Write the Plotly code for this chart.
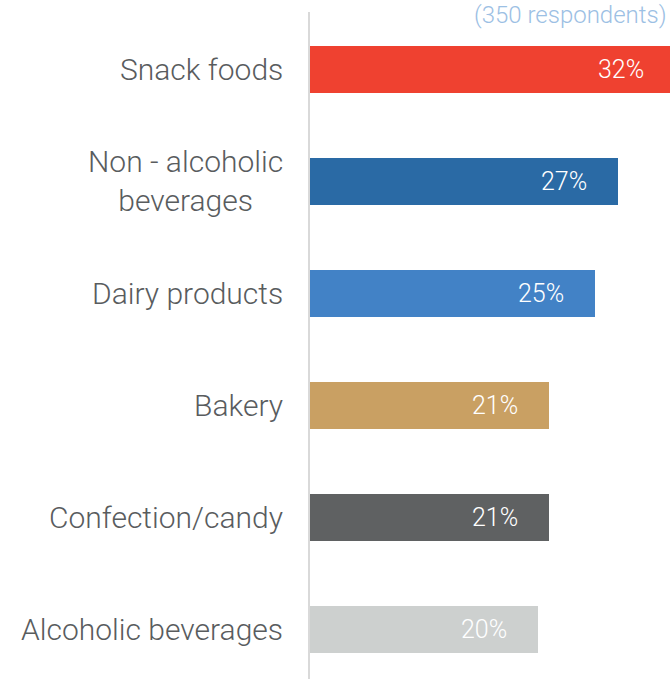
import plotly.graph_objects as go

# Categories, shares and bar colours
categories = [
    "Snack foods",
    "Non - alcoholic<br>beverages",
    "Dairy products",
    "Bakery",
    "Confection/candy",
    "Alcoholic beverages",
]
shares = [32, 27, 25, 21, 21, 20]
value_labels = ["32%", "27%", "25%", "21%", "21%", "20%"]
colors = ["#ef4130", "#2a6aa5", "#4282c6", "#c9a063", "#5f6162", "#cdd0cf"]
subtitle = "(350 respondents)"

X_MAX = 31.6
FONT = "Roboto, 'Liberation Sans', Arial, sans-serif"

fig = go.Figure(
    go.Bar(
        x=shares,
        y=categories,
        orientation="h",
        marker=dict(color=colors, line=dict(width=0)),
        width=0.42,
        hoverinfo="skip",
    )
)

annotations = []
# Value labels, right-aligned inside each bar
for cat, v, lab in zip(categories, shares, value_labels):
    annotations.append(dict(
        x=v / X_MAX, xref="paper", y=cat, yref="y",
        text=lab, showarrow=False, xanchor="right", yanchor="middle",
        xshift=-29,
        font=dict(family=FONT, size=25, color="white", weight=300),
    ))
# Category labels, centred lines, right edge left of the axis
for cat in categories:
    annotations.append(dict(
        x=0, xref="paper", y=cat, yref="y",
        text=cat, showarrow=False, xanchor="right", yanchor="middle",
        align="center", xshift=-25,
        font=dict(family=FONT, size=30, color="#595c5e", weight=300),
    ))
annotations.append(dict(
    x=1, xref="paper", y=1, yref="paper",
    text=subtitle, showarrow=False, xanchor="right", yanchor="middle",
    xshift=-1, yshift=-3,
    font=dict(family=FONT, size=24, color="#9cc0e4", weight=300),
))

fig.update_layout(
    width=670,
    height=679,
    margin=dict(l=310, r=0, t=12, b=0),
    paper_bgcolor="white",
    plot_bgcolor="white",
    showlegend=False,
    bargap=0,
    annotations=annotations,
    xaxis=dict(
        range=[0, X_MAX], showgrid=False, zeroline=False,
        showticklabels=False, showline=False, fixedrange=True,
    ),
    yaxis=dict(
        type="category",
        categoryorder="array", categoryarray=categories,
        range=[5.44, -0.51],
        showgrid=False, zeroline=False, showticklabels=False,
        showline=True, linecolor="#d9d9d9", linewidth=2,
        fixedrange=True,
    ),
)

fig.write_html("out.html")
